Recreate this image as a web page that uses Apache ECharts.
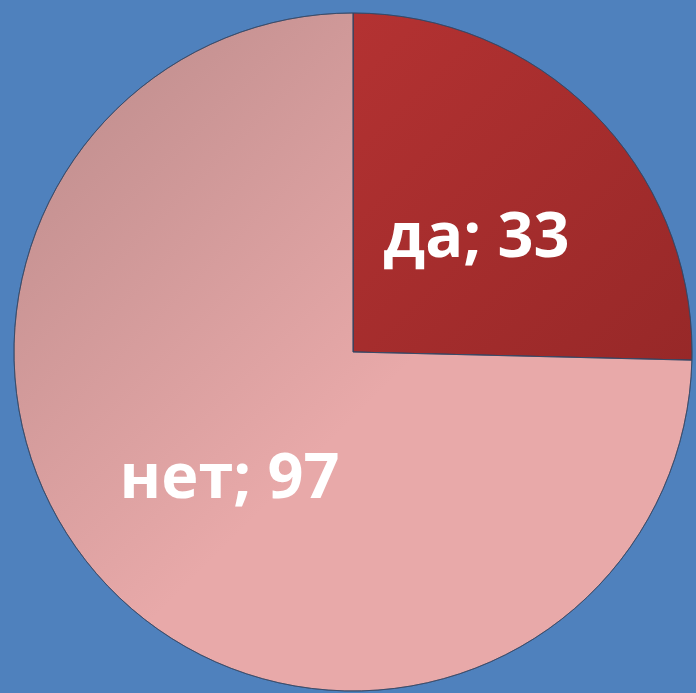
<!DOCTYPE html>
<html>
<head>
<meta charset="utf-8">
<script src="https://cdn.jsdelivr.net/npm/echarts@6/dist/echarts.min.js"></script>
<style>
  html, body { margin: 0; padding: 0; background: #4f81bd; }
  #chart { width: 696px; height: 693px; }
</style>
</head>
<body>
<div id="chart"></div>
<script>
const categories = ['да', 'нет']
const values = [33, 97]

// цвета секторов: [начало градиента, конец градиента]
const sliceColors = [
  ['#b43232', '#972828'],
  ['#ba8a8a', '#e8a9a9'],
]

const chart = echarts.init(document.getElementById('chart'))

const option = {
  backgroundColor: '#4f81bd',
  series: [
    {
      type: 'pie',
      center: [353, 352],
      radius: [0, 339],
      startAngle: 90,
      clockwise: true,
      silent: true,
      label: {
        show: true,
        position: 'inside',
        formatter: (p) => p.name + '; ' + p.value,
        color: '#ffffff',
        fontSize: 63,
        fontWeight: 'bold',
        fontFamily: 'Open Sans',
      },
      labelLayout: { dy: 8 },
      labelLine: { show: false },
      itemStyle: {
        borderColor: 'rgba(50, 70, 100, 0.7)',
        borderWidth: 1,
      },
      data: categories.map((name, i) => ({
        name,
        value: values[i],
        itemStyle: {
          color: {
            type: 'linear',
            x: 0,
            y: 0,
            x2: i === 0 ? 1 : 0.55,
            y2: i === 0 ? 1 : 0.55,
            colorStops: [
              { offset: 0, color: sliceColors[i][0] },
              { offset: 1, color: sliceColors[i][1] },
            ],
            global: false,
          },
        },
      })),
    },
  ],
}

chart.setOption(option)
</script>
</body>
</html>
